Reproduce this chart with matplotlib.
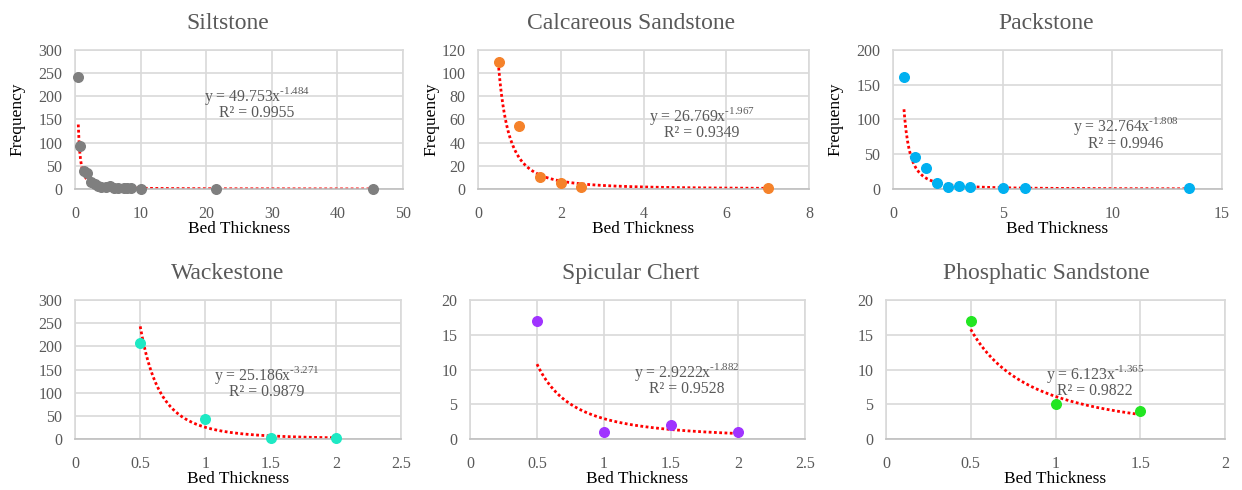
import numpy as np
import matplotlib.pyplot as plt

plt.rcParams['font.family'] = ['Liberation Serif', 'DejaVu Serif']
plt.rcParams['mathtext.fontset'] = 'custom'
plt.rcParams['mathtext.rm'] = 'Liberation Serif'

# bed thickness vs. frequency for each lithology
silt_x = [0.5, 0.7, 1.4, 1.9, 2.4, 3.0, 3.5, 4.0, 4.7, 5.4, 6.0, 6.6, 7.5, 8.0, 8.5, 10.0, 21.5, 45.5]
silt_y = [242, 93, 39, 34, 16, 11, 7, 5, 4, 6, 2, 2, 3, 2, 2, 1, 1, 1]
calc_x = [0.5, 1.0, 1.5, 2.0, 2.5, 7.0]
calc_y = [110, 54, 10, 5, 2, 1]
pack_x = [0.5, 1.0, 1.5, 2.0, 2.5, 3.0, 3.5, 5.0, 6.0, 13.5]
pack_y = [161, 46, 30, 9, 3, 4, 3, 1, 1, 1]
wack_x = [0.5, 1.0, 1.5, 2.0]
wack_y = [207, 43, 3, 3]
spic_x = [0.5, 1.0, 1.5, 2.0]
spic_y = [17, 1, 2, 1]
phos_x = [0.5, 1.0, 1.5]
phos_y = [17, 5, 4]

# power-law fits y = a * x^b and their R^2
fits = {
    'Siltstone': (49.753, -1.484, 0.9955),
    'Calcareous Sandstone': (26.769, -1.967, 0.9349),
    'Packstone': (32.764, -1.808, 0.9946),
    'Wackestone': (25.186, -3.271, 0.9879),
    'Spicular Chert': (2.9222, -1.882, 0.9528),
    'Phosphatic Sandstone': (6.123, -1.365, 0.9822),
}

W, H = 1242, 490
# name, x, y, colour, xmax, xstep, ymax, ystep, rect px (l, r, t, b), eq pos, title x px, ylabel x px
panels = [
    ('Siltstone', silt_x, silt_y, '#7f7f7f', 50, 10, 300, 50, (75, 403, 50, 189), (0.555, 0.62), 228, 17),
    ('Calcareous Sandstone', calc_x, calc_y, '#f5822a', 8, 2, 120, 20, (478, 809, 50, 189), (0.677, 0.475), 631, 431),
    ('Packstone', pack_x, pack_y, '#00b0f0', 15, 5, 200, 50, (893, 1222, 50, 189), (0.708, 0.40), 1046, 835),
    ('Wackestone', wack_x, wack_y, '#1de9c4', 2.5, 0.5, 300, 50, (75, 401, 300, 439), (0.589, 0.41), 228, None),
    ('Spicular Chert', spic_x, spic_y, '#a033ff', 2.5, 0.5, 20, 5, (470, 805, 300, 439), (0.648, 0.43), 631, None),
    ('Phosphatic Sandstone', phos_x, phos_y, '#22e622', 2, 0.5, 20, 5, (886, 1225, 300, 439), (0.617, 0.42), 1046, None),
]

fig = plt.figure(figsize=(W / 100, H / 100), dpi=100)
gray = '#595959'

for name, xs, ys, col, xmax, xstep, ymax, ystep, rect, eqpos, tx, ylx in panels:
    l, r, t, b = rect
    ax = fig.add_axes([l / W, 1 - b / H, (r - l) / W, (b - t) / H])
    ax.set_xlim(0, xmax)
    ax.set_ylim(0, ymax)
    ax.set_xticks(np.arange(0, xmax + xstep / 2, xstep))
    ax.set_yticks(np.arange(0, ymax + ystep / 2, ystep))
    ax.set_xticklabels([f'{v:g}' for v in ax.get_xticks()])
    ax.grid(True, color='#d9d9d9', lw=1.2)
    ax.set_axisbelow(True)
    for s in ax.spines.values():
        s.set_color('#d9d9d9')
        s.set_linewidth(1.2)
    ax.spines['bottom'].set_color('#bfbfbf')
    ax.tick_params(length=0, labelsize=11.5, labelcolor=gray)
    ax.tick_params(axis='x', pad=12 if ylx else 12)
    ax.tick_params(axis='y', pad=9)

    a, p, r2 = fits[name]
    xf = np.linspace(min(xs), max(xs), 400)
    ax.plot(xf, a * xf ** p, color='red', lw=2, ls=(0, (1, 0.9)), zorder=2)
    ax.scatter(xs, ys, s=48, color=col, zorder=3, clip_on=False)

    ax.text(eqpos[0], eqpos[1],
            f'y = {a:g}x' + r'$^{\text{' + f'{p:g}' + r'}}$' + f'\nR² = {r2:.4f}',
            transform=ax.transAxes, ha='center', va='center', fontsize=11.3,
            color=gray, linespacing=0.85)

    ax.set_title(name, x=(tx - l) / (r - l), y=1.0, pad=15, fontsize=17, color=gray)
    ax.set_xlabel('Bed Thickness', fontsize=12.4, color='black')
    ax.xaxis.set_label_coords(0.5, -0.29)
    ax.xaxis.label.set_va('center')
    if ylx is not None:
        ax.set_ylabel('Frequency', fontsize=12.5, color='black')
        ax.yaxis.set_label_coords((ylx - l) / (r - l), 0.5)
        ax.yaxis.label.set_va('center')

fig.savefig('out.png', dpi=100)
